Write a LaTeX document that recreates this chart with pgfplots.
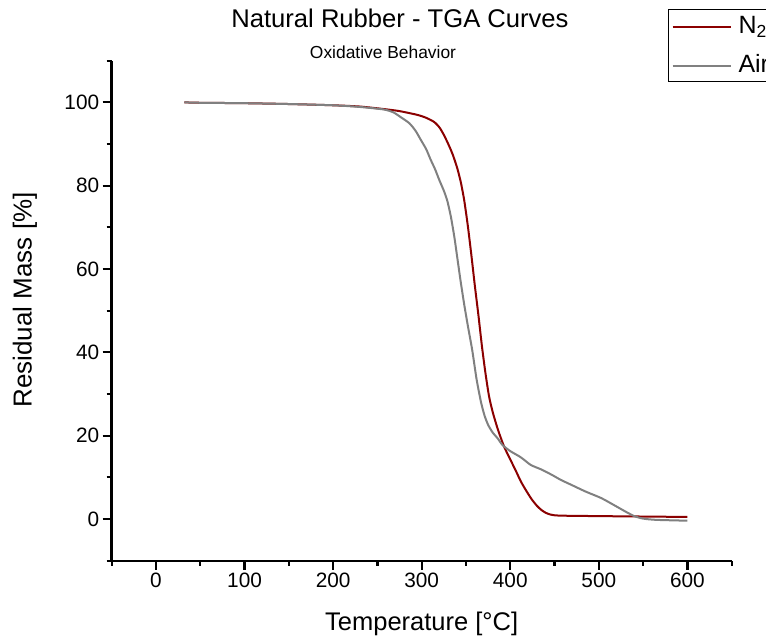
\documentclass[border=0pt]{standalone}
\usepackage{fontspec}
\setmainfont{Liberation Sans}
\usepackage{pgfplots}
\pgfplotsset{compat=1.18}
\definecolor{wine}{RGB}{139,0,0}
\definecolor{airgray}{RGB}{128,128,128}
\begin{document}
\begin{tikzpicture}
\begin{axis}[
  name=ax, at={(0,0)}, anchor=south west,
  scale only axis, width=620bp, height=500bp,
  xmin=-50, xmax=650, ymin=-10, ymax=110,
  axis x line*=bottom, axis y line*=left,
  axis line style={line width=2.4bp, black},
  xtick={0,100,...,600}, minor xtick={-50,50,...,650},
  ytick={0,20,...,100}, minor ytick={-10,10,...,110},
  tick align=outside, major tick length=9bp, minor tick length=5bp,
  tick style={black, line width=2.2bp},
  tick label style={font=\fontsize{20.8bp}{24bp}\selectfont},
  /pgf/number format/assume math mode=true,
  xlabel={Temperature [°C]}, ylabel={Residual Mass [\%]},
  xlabel style={at={(axis description cs:0.5,-0.1406)}, anchor=base, font=\fontsize{25.5bp}{30bp}\selectfont},
  ylabel style={at={(axis description cs:-0.129,0.5214)}, anchor=base, font=\fontsize{26bp}{30bp}\selectfont},
  title={Natural Rubber - TGA Curves},
  title style={at={(axis description cs:0.465,1.0548)}, anchor=base, font=\fontsize{25.6bp}{30bp}\selectfont},
  clip=false,
  legend style={at={(axis description cs:0.8968,1.1028)}, anchor=north west,
    draw=black, line width=1bp, inner xsep=3.3bp, inner ysep=5.7bp,
    row sep=16.7bp, column sep=7bp,
    font=\fontsize{25bp}{30bp}\selectfont,
    cells={anchor=base west},
    nodes={inner sep=0pt, text height=18bp, text depth=4bp}},
  legend image code/.code={\draw[#1, line width=2bp] (0bp,6.5bp) -- (58bp,6.5bp); \path (0bp,0bp);},
]
\addplot[wine, line width=2bp, smooth, tension=0.4] coordinates {
(32,100.0) (50,99.9) (100,99.8) (150,99.6) (200,99.3) (230,99.0) (257,98.4)
(275,97.9) (295,97.0) (305,96.3) (314,95.3) (320,94.0) (325,92.2) (330,90.0)
(335,87.5) (340,84.3) (344,81.0) (348,76.5) (352,70.5) (356,63.5) (360,56)
(364,49) (368,41.5) (372,35) (376,29.5) (380,25.8) (386,21.5) (393,17.4)
(400,14.3) (406,11.7) (412,9.0) (418,6.8) (424,4.8) (430,3.2) (435,2.2)
(440,1.5) (445,1.1) (450,0.9) (460,0.8) (500,0.7) (550,0.6) (600,0.5)
};
\addlegendentry{N\textsubscript{2}}
\addplot[airgray, line width=2bp, smooth, tension=0.4] coordinates {
(32,100.0) (50,99.9) (100,99.8) (150,99.6) (200,99.3) (230,98.9) (257,98.3)
(268,97.6) (276,96.5) (286,95.0) (293,93.2) (299,91.0) (305,88.8) (310,86.3)
(315,84.0) (320,81.3) (325,78.8) (329,76.3) (333,72.5) (337,67.5) (340,63.0)
(344,57.0) (348,51.5) (352,46.5) (357,40.6) (362,33.5) (367,28.0) (371,24.8)
(375,22.6) (380,20.8) (386,19.3) (391,17.8) (400,16.3) (412,14.8) (423,13.0)
(435,11.9) (447,10.6) (457,9.4) (469,8.2) (485,6.6) (503,5.0) (520,3.0)
(530,1.8) (540,0.7) (550,0.1) (565,-0.2) (600,-0.4)
};
\addlegendentry{Air}
\node[anchor=base, font=\fontsize{17.4bp}{20bp}\selectfont] at (axis description cs:0.4376,1.0048) {Oxidative Behavior};
\end{axis}
\pgfresetboundingbox
\useasboundingbox (-111.7bp,-80.3bp) rectangle (654.3bp,560.7bp);
\end{tikzpicture}
\end{document}
